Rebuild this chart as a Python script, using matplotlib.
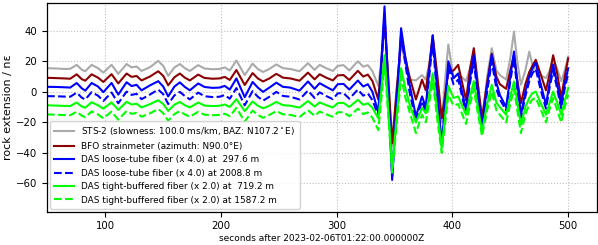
import matplotlib
matplotlib.use("Agg")
import matplotlib.pyplot as plt

time_s = [50, 58, 65, 70, 75.6, 80, 83, 88.5, 94, 98.6, 105.7, 111.5, 118.7, 123, 127.3,
          131.6, 138.8, 146, 150.3, 154.6, 160, 164.7, 169, 173.3, 180.5, 186, 193, 199,
          203.4, 207.8, 213.5, 220.7, 227.5, 232, 236.5, 242, 248, 253.7, 260, 268, 275.3,
          281, 285.4, 291, 296.8, 301, 306, 311, 318.4, 323, 327, 331, 336,
          338.5, 341.4, 344.7, 348, 351.8, 355.7, 359.5, 363, 368.5, 373.8, 377, 380, 383,
          386.8, 390.8, 393.7, 396.5, 401, 405, 411.8, 415, 418.5, 422, 425.6, 430, 434,
          438, 441, 446.4, 450, 453.2, 456, 459.2, 463, 466.4, 469, 472, 476, 480.8, 484,
          487, 490.5, 494, 497, 500]

sts2 = [15.5, 15.3, 15.0, 15.1, 17.7, 14.5, 13.5, 17.7, 15.5, 12.6, 17.7, 11.8, 18.2, 16.0, 16.6,
        13.7, 16.1, 20.3, 17.0, 10.5, 16.0, 18.2, 15.5, 13.7, 17.5, 15.3, 14.8, 15.0,
        16.0, 14.0, 20.5, 11.0, 18.5, 15.0, 13.0, 15.0, 18.0, 15.5, 15.0, 13.5, 18.8,
        14.4, 17.7, 15.5, 13.7, 17.0, 17.5, 14.0, 20.0, 16.5, 17.5, 13.5, 4.0,
        20, 45, 8, -36, 2, 32, 18, 8, 7.5, 11, 8, 18, 33,
        10, -20, 8, 31, 9, 12, 7, 15, 27, 5, -20, 10, 28.6,
        14, 11, 8, 22, 39.5, 20, 4.6, 14, 26.4, 18, 14, 11, 9, 14,
        22, 15, 7, 14, 23]

bfo = [9.2, 9.0, 8.8, 8.6, 11.5, 8.3, 7.3, 11.5, 9.3, 6.5, 11.6, 5.5, 12.0, 9.8, 10.4,
       7.5, 10.0, 13.5, 10.5, 4.3, 9.6, 12.0, 9.3, 7.5, 11.3, 9.1, 8.6, 8.8,
       9.8, 7.8, 14.3, 4.5, 12.3, 8.8, 6.8, 8.8, 11.8, 9.3, 8.8, 7.3, 12.6,
       8.2, 11.5, 9.3, 7.5, 10.8, 11.0, 7.8, 13.8, 10.0, 11.3, 7.0, -5.0,
       16, 48, 8, -33.7, 0, 34, 22, 10, -5, 8, 1, 17, 37,
       12, -17.3, -2, 13, 14, 17.7, -5.5, 14, 28.6, 5, -17, 6, 25,
       10, 5, 2, 14, 24, 8, -7.4, 5, 13, 17, 21, 12, 1, 12,
       24, 12, -4, 10, 22]

das_loose_1 = [3.3, 3.2, 3.0, 2.8, 5.8, 2.3, 0.8, 5.8, 3.5, -0.2, 5.8, -1.8, 6.3, 3.8, 4.6,
               1.0, 4.2, 7.0, 3.5, -3.0, 3.5, 6.2, 3.2, 1.0, 5.5, 3.2, 2.6, 2.8,
               3.9, 1.5, 8.8, -3.5, 6.5, 2.8, 0.0, 2.8, 6.0, 3.3, 2.8, 0.8, 6.8,
               2.0, 5.7, 3.3, 1.0, 5.0, 5.2, 1.5, 7.4, 3.5, 5.0, 0.0, -13.5,
               18, 56, 2, -57.7, -8, 41.7, 22, 5, -16, -3, -10, 14, 37,
               2, -35, -8, 20, 9, 12, -12, 8, 24, 0, -23, 4, 24.3,
               6, -2, -10, 10, 26.4, 6, -15, 0, 10, 15, 19, 6, -8.5, 6,
               18, 5, -8.5, 5, 15.5]

das_loose_2 = [-2.8, -2.9, -3.1, -3.2, -0.5, -3.8, -5.0, -0.2, -2.5, -6.0, -0.4, -7.5, 0.2, -2.0, -1.3,
               -4.8, -1.8, 1.5, -1.5, -8.0, -2.3, 0.0, -2.8, -4.9, -0.5, -2.9, -3.4, -3.2,
               -2.1, -4.5, 2.5, -8.8, 0.5, -3.2, -5.8, -3.2, 0.0, -2.7, -3.2, -5.0, 0.8,
               -4.0, -0.3, -2.7, -4.8, -1.0, -0.8, -4.5, 1.5, -2.5, -1.0, -5.5, -15.5,
               14, 51, 0, -55, -10, 38, 18, 0, -19, -6, -13, 10, 33,
               -2, -36, -10, 16, 5, 8, -14, 5, 20, -3, -24, 0, 20,
               2, -5, -12, 7, 22, 2, -17, -3, 7, 12, 15, 2, -11, 3,
               14, 2, -11, 2, 12]

das_tight_1 = [-8.8, -9.0, -9.2, -9.3, -7.0, -9.6, -10.4, -6.8, -8.8, -11.0, -6.9, -11.8, -6.5, -8.3, -7.8,
               -10.2, -8.1, -5.5, -8.0, -12.5, -8.4, -6.6, -8.8, -10.2, -7.0, -9.0, -9.3, -9.1,
               -8.3, -9.9, -4.8, -12.6, -6.3, -9.1, -10.8, -9.1, -6.6, -8.7, -9.1, -10.3, -6.0,
               -9.6, -6.9, -8.7, -10.2, -7.4, -7.2, -9.9, -5.2, -8.5, -7.5, -10.5, -17.3,
               0, 24, -12, -50, -17, 15.5, 2, -8, -20, -10.5, -14, -2, 12,
               -12, -37, -16, 4, -4, -3, -15, -4, 7, -10, -26, -8, 4.6,
               -7, -10, -15, -3, 6.8, -7, -21.6, -10, -4, -1, 0.2, -7, -15, -7,
               0.2, -7, -15, -6, 2.6]

das_tight_2 = [-14.8, -15.0, -15.2, -15.3, -13.0, -15.6, -16.6, -12.8, -14.8, -17.3, -12.9, -18.2, -12.5, -14.4, -13.8,
               -16.3, -14.1, -11.2, -14.0, -19.0, -14.5, -12.6, -14.8, -16.3, -13.0, -15.0, -15.3, -15.1,
               -14.3, -16.0, -10.5, -19.5, -12.3, -15.1, -17.0, -15.1, -12.6, -14.7, -15.1, -16.5, -12.0,
               -15.7, -12.9, -14.7, -16.3, -13.4, -13.3, -16.0, -11.0, -14.5, -13.5, -17.0, -25.0,
               -6, 19, -16, -53, -22, 10, -4, -13, -27, -15, -20, -7, 7,
               -17, -40, -21, -2, -9, -8, -21, -9, 2, -14, -29, -12, 0,
               -12, -15, -20, -8, 2, -12, -27, -15, -8, -5, -4, -11, -20, -11,
               -4, -12, -20, -10, -2]

labels = [
    r"STS-2 (slowness: 100.0 ms/km, BAZ: N107.2$^\circ$E)",
    "BFO strainmeter (azimuth: N90.0°E)",
    "DAS loose-tube fiber (x 4.0) at  297.6 m",
    "DAS loose-tube fiber (x 4.0) at 2008.8 m",
    "DAS tight-buffered fiber (x 2.0) at  719.2 m",
    "DAS tight-buffered fiber (x 2.0) at 1587.2 m",
]
x_ticks = [100, 200, 300, 400, 500]
y_ticks = [-60, -40, -20, 0, 20, 40]

fig = plt.figure(figsize=(5.98, 2.45), dpi=100)
ax = fig.add_axes([0.0781, 0.1359, 0.9197, 0.8506])

series = [sts2, bfo, das_loose_1, das_loose_2, das_tight_1, das_tight_2]
colors = ["#aaaaaa", "#8b0000", "#0000ff", "#0000ff", "#00ff00", "#00ff00"]
styles = ["-", "-", "-", "--", "-", "--"]
for vals, c, ls, lab in zip(series, colors, styles, labels):
    ax.plot(time_s, vals, color=c, ls=ls, lw=1.5, label=lab,
            solid_joinstyle="round", dash_joinstyle="round")

ax.set_xlim(49.7, 524.6)
ax.set_ylim(-78.5, 58)
ax.set_xticks(x_ticks)
ax.set_yticks(y_ticks)
ax.tick_params(labelsize=7.3, length=3.5, width=0.8)
ax.grid(True, ls=":", color="#c0c0c0", lw=0.8)
ax.set_axisbelow(True)
ax.set_xlabel("seconds after 2023-02-06T01:22:00.000000Z", fontsize=6.5, labelpad=2)
ax.set_ylabel("rock extension / n\u03b5", fontsize=8, labelpad=2)
for sp in ax.spines.values():
    sp.set_linewidth(0.9)

leg = ax.legend(loc="lower left", fontsize=6.4, labelspacing=0.5, handlelength=2.3,
                borderaxespad=0.35, framealpha=0.85, borderpad=0.45, handletextpad=0.8)

fig.savefig("out.png", dpi=100)
